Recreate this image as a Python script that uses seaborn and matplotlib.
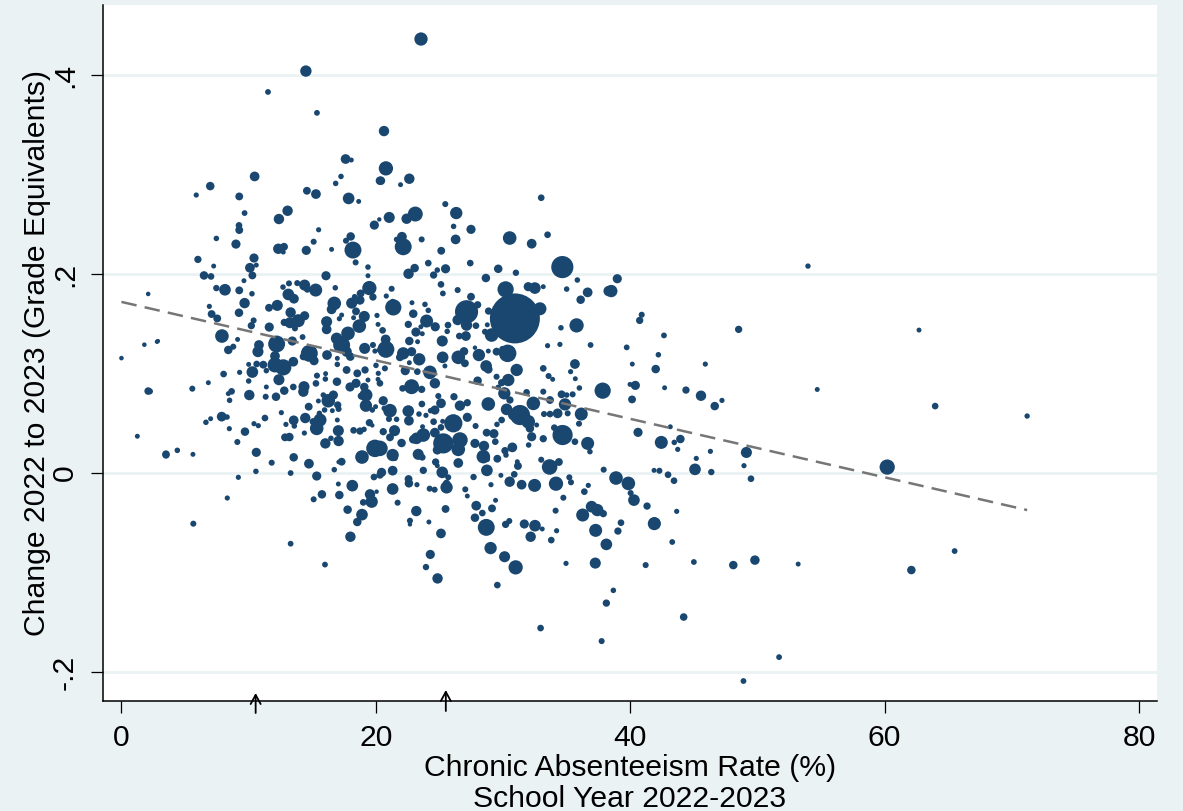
import matplotlib
matplotlib.use("Agg")
import matplotlib.pyplot as plt
import numpy as np
import pandas as pd
import seaborn as sns

chronic = [
17.62,18.07,10.47,6.98,5.88,17.26,16.84,20.32,14.58,15.29,9.26,17.86,18.65,9.68,13.06,12.38,19.88,20.27,9.24,9.26,
15.50,7.46,18.02,17.65,15.11,9.0,12.33,12.78,12.72,14.53,16.52,18.2,18.41,6.01,10.42,10.6,7.25,10.1,19.38,6.49,
7.04,10.29,16.08,19.38,9.63,7.46,8.14,9.26,10.26,12.70,13.17,13.82,14.4,14.61,15.27,16.81,19.49,18.8,19.77,13.12,
13.56,9.68,6.91,11.60,12.25,16.73,16.52,18.1,18.75,18.33,9.24,7.09,7.53,13.3,14.4,13.9,13.25,12.8,17.31,17.13,
18.44,19.09,20.09,10.39,10.21,11.62,16.13,16.13,18.7,20.17,18.25,13.64,7.9,9.13,14.24,16.92,17.81,
23.55,14.5,11.52,15.37,20.64,
20.79,20.4,22.63,21.94,33.0,25.46,26.32,21.05,22.42,23.1,26.11,27.48,22.05,21.63,22.15,23.6,26.27,30.52,32.25,33.5,
25.14,34.66,24.12,27.42,23.05,22.57,24.83,25.48,24.54,29.62,31.01,28.65,35.84,25.12,21.24,26.43,25.27,20.82,30.2,31.98,
32.5,33.16,35,36.65,36.1,38.3,27.48,21.37,21.32,22.84,23.86,24.12,22.94,27.13,28.0,28.86,26.43,27.87,27.13,32.9,
30.93,28.76,34.55,35.78,22.55,23.99,24.67,25.67,25.61,23.54,23.65,23.15,20.53,20.77,26.56,27.08,28.58,29.1,
2.87,5.57,6.83,2.24,8.03,9.29,8.4,8.79,10.81,10.73,12.2,13.43,10,10.63,11.15,10.29,11.39,12.07,12.07,12.72,
13.51,10,12.38,11.39,8.66,8.4,8.5,10.05,11.34,12.15,12.8,13.51,14.35,14.3,14.77,14.3,15.14,16.16,17.31,17.7,
17.99,19.12,19.77,19.93,20.27,16.97,16.97,17.7,15.37,16.05,16.03,15.29,16.94,18.54,19.15,20.01,20.19,19.38,20.17,18.44,
17.97,19.09,20.32,19.22,18.86,19.22,19.72,19.98,20.4,16.66,15.87,16.26,15.48,17,17.07,14.72,15.97,16.58,12.57,11.28,
7.88,8.3,7.01,6.64,8.48,10.42,10.76,9.71,13.54,13.59,12.93,14.45,15.08,15.61,15.56,15.35,16.97,17.05,14.38,12.86,
13.2,9.11,18.25,18.75,19.07,19.49,19.72,17.07,16.47,16.03,10.6,3.5,4.39,5.62,13.54,11.81,14.74,17.31,17.07,18.91,
19.93,16.73,10.57,13.3,9.19,15.35,19.85,20.32,17.05,18.15,15.76,17.13,15.11,8.32,19.54,19.67,19.01,20.06,17.78,18.91,
18.54,5.65,
20.79,22.63,23.28,25.22,22.15,22.81,23.41,21.89,22.63,25.25,20.71,22.31,23.26,25.43,26.48,26.93,27,28.1,27.79,28.84,
28.67,28.84,29.49,30.36,29.94,33.5,34.47,36.88,35.65,35.31,31.07,33.16,33.58,33.9,35.68,29.49,30.41,29.89,28,24.25,
24.64,22.81,22.1,23.6,20.32,29.62,30.1,31.85,33.16,36,37.83,34.6,35.47,35,24.91,26.14,20.58,25.12,23.62,27.19,
26.61,28.84,30.54,34.87,33.69,32.38,21.11,22.55,20.66,24.64,23.39,23.94,24.3,21.63,22.6,21.03,24.54,25.25,26.09,27.19,
30.28,31.33,31.98,32.11,32.25,30.8,32.64,33.22,33.69,34.29,35.08,36.15,35.97,27.84,29.52,29.89,28.71,29.28,29.39,33.16,
34.03,34.68,35.65,36.65,36.83,32.01,20.58,21.47,21.11,22.02,23.2,23.73,22.94,23.67,24.64,25.12,25.3,24.83,26.61,26.48,
27.79,28.5,30.73,30.15,30.23,20.32,21.32,21.5,23.33,23.65,28.45,28.76,29.55,24.7,24.83,26.48,31.12,31.17,33,33.66,
34.39,37.91,21.32,20.45,23.73,25.22,25.69,28.73,30.88,29.83,27.68,22.57,22.6,23.23,21.32,24.23,24.62,25.56,25.56,27.03,
27.19,29.05,30.52,31.46,32.48,34.16,35.21,35.34,36.7,36.39,34.74,21.71,23.18,25.48,27.89,28.37,29.13,29.41,27.79,28.68,
34.13,36.26,36.96,37.41,37.88,22.68,22.68,24.17,30.49,30.2,31.67,32.51,37.28,33.08,
25.12,24.28,23.94,24.85,29.02,30.12,30.99,29.55,32.17,34.21,33.79,39.03,39.27,38.12,34.95,37.25,41.21,38.67,38.12,32.95,
37.75,41.9,
38.98,38.51,40.9,40.74,42.65,48.52,39.72,42.21,40.16,45.9,42,39.98,40.4,42.7,40.14,44.38,45.56,46.64,47.21,43.15,
40.61,42.44,43.46,43.94,43.73,46.3,49.13,48.94,45.19,45.09,46.37,49.49,41.87,42.29,42.97,43.44,38.88,39.85,40.03,40.29,
41.32,43.65,41.89,
53.97,62.7,71.2,63.97,54.7,60.2,65.5,62.1,53.2,49.8,48.1,51.7,48.9,44.2,45,43.3,
0,2.1,1.8,2.8,2.1,1.25,3.5,4.4,18,16,13.3,
]
change = [
.3156,.3146,.2981,.2884,.2794,.2981,.2911,.2938,.2837,.2804,.2780,.2760,.2730,.2613,.2636,.2553,.2492,.2549,.2489,.2442,
.2445,.2358,.2378,.2335,.2325,.2301,.2254,.2274,.2221,.2238,.2248,.2241,.2117,.2147,.2161,.2090,.2080,.2063,.2070,.1986,
.1976,.1986,.1983,.1983,.1933,.1859,.1842,.1836,.1802,.1869,.1906,.1909,.1889,.1846,.1839,.1862,.1859,.1805,.1769,.1795,
.1752,.1708,.1675,.1661,.1685,.1705,.1645,.1708,.1738,.1772,.1611,.1598,.1554,.1614,.1581,.1531,.1511,.1514,.1588,.1551,
.1625,.1574,.1584,.1534,.1481,.1467,.1521,.1444,.1477,.1494,.1561,.1454,.1377,.1343,.1367,.1353,.1404,
.4362,.404,.383,.362,.3437,
.3062,.2938,.2958,.2898,.2767,.2703,.2613,.2569,.2556,.2603,.2479,.2449,.2375,.2348,.2274,.2348,.2348,.2362,.2305,.2395,
.2234,.2070,.2110,.2110,.2060,.2003,.2040,.2053,.1990,.2053,.2013,.1960,.1940,.1896,.1852,.1839,.1805,.1779,.1846,.1873,
.1859,.1873,.1849,.1816,.1742,.1829,.1772,.1665,.1722,.1712,.1695,.1635,.1601,.1621,.1691,.1628,.1538,.1481,.1487,.1651,
.1554,.1490,.1460,.1484,.1494,.1528,.1470,.1487,.1424,.1470,.1400,.1417,.1434,.1343,.1377,.1377,.1420,.1387,
.1327,.0848,.0908,.0821,.0995,.1012,.1237,.1270,.1287,.1220,.1297,.1327,.1092,.1096,.1089,.1015,.1029,.1176,.1086,.1062,
.1119,.0925,.0938,.0865,.0821,.0798,.0731,.0784,.0767,.0767,.0828,.0865,.0868,.0818,.1203,.1170,.1129,.1186,.1287,.1220,
.1170,.1253,.1287,.1226,.1236,.1092,.1153,.1036,.0979,.0999,.0945,.0901,.0918,.1002,.1036,.1082,.1002,.0935,.0942,.0902,
.0865,.0865,.0902,.0784,.0774,.0677,.0634,.0667,.0717,.0784,.0784,.0727,.0724,.0684,.0644,.0667,.0634,.0627,.0607,.0553,
.0567,.0563,.0546,.0510,.0446,.0496,.0476,.0416,.0530,.0473,.0489,.0553,.0516,.0533,.0600,.0449,.0533,.0426,.0402,.0359,
.0362,.0312,.0429,.0422,.0439,.0506,.0479,.0322,.0349,.0298,.0208,.0181,.0228,.0188,.0158,.0104,.0094,.0114,.0111,.0161,
.0248,.0034,.0017,.0000,-.0043,-.0030,-.0040,-.0020,-.0110,-.0127,-.0214,-.0221,-.0264,-.0251,-.0214,-.0288,-.0295,-.0187,-.0368,-.0418,
-.0492,-.0509,
.1243,.1327,.1320,.1327,.1203,.1220,.1143,.1163,.1109,.1163,.1052,.1029,.1019,.1076,.1163,.1223,.1103,.1186,.1260,.1226,
.1076,.1042,.1220,.1203,.1247,.1280,.1293,.1287,.1096,.1019,.1036,.1052,.0975,.0942,.0948,.0968,.0935,.0908,.0928,.1012,
.0902,.0868,.0851,.0841,.0902,.0861,.0801,.0811,.0818,.0855,.0828,.0791,.0791,.0784,.0774,.0767,.0727,.0701,.0694,.0707,
.0677,.0694,.0734,.0690,.0734,.0700,.0627,.0623,.0650,.0633,.0593,.0580,.0627,.0540,.0526,.0543,.0516,.0520,.0500,.0560,
.0640,.0583,.0516,.0449,.0365,.0583,.0483,.0593,.0593,.0600,.0600,.0593,.0496,.0473,.0489,.0533,.0406,.0396,.0315,.0345,
.0456,.0382,.0315,.0298,.0215,.0282,.0416,.0426,.0359,.0302,.0349,.0382,.0339,.0466,.0406,.0459,.0298,.0232,.0332,.0238,
.0298,.0272,.0258,.0225,.0181,.0248,.0181,.0148,.0188,.0158,.0165,.0138,.0144,.0111,.0074,.0101,.0114,.0071,.0134,.0061,
.0111,.0034,.0024,.0007,.0027,.0007,-.0043,.0027,-.0013,-.0023,-.0040,-.0060,-.0103,-.0117,-.0160,-.0157,-.0167,-.0144,-.0103,-.0164,
-.0231,-.0117,-.0087,-.0117,-.0124,-.0107,-.0043,-.0093,-.0124,-.0187,-.0248,-.0298,-.0382,-.0361,-.0328,-.0402,-.0355,-.0274,-.0449,-.0546,
-.0378,-.0422,-.0338,-.0372,-.0408,-.0479,-.0516,-.0492,-.0482,-.0516,-.0512,-.0529,-.0576,-.0562,
-.0607,-.0818,-.0945,-.1059,-.0754,-.0841,-.0948,-.1126,-.0640,-.0580,-.0674,-.0583,-.0499,-.0717,-.0908,-.0905,-.0925,-.1179,-.1307,-.1558,
-.1689,-.0506,
.1953,.1829,.1591,.1534,.1383,.1444,.1263,.1189,.1095,.1095,.1045,.0891,.0881,.0857,.0740,.0834,.0777,.0673,.0730,.0465,
.0409,.0308,.0308,.0342,.0238,.0218,.0207,.0074,.0147,.0037,.0010,-.0057,.0027,.0023,-.0017,-.0077,-.0050,-.0104,-.0201,-.0272,
-.0332,-.0385,-.0509,
.208,.1437,.0573,.0673,.084,.006,-.0784,-.0975,-.0915,-.0875,-.0925,-.185,-.209,-.1447,-.0894,-.0693,
.1155,.18,.129,.132,.0824,.037,.019,.023,-.064,-.092,-.071,
]
enrollment = [
9.3,4,9.3,8,4.3,4.7,4.7,8,7.3,9.3,7.3,11.3,4,5,10,10,8.7,3.3,6,7.3,
4.3,4.7,8,5.3,5.3,8.7,10,7.3,4,8.7,4,16.7,5.3,6.7,8.7,4,4,9.3,4.7,8,
6,7.3,8.7,4,4,5.7,11.3,7.3,4.7,4.7,5.3,5.3,10.7,6,12.7,4.7,14,7.3,6.7,11.3,
9.3,10,4.3,7.3,10.7,13.3,9.3,10.7,8.7,4.7,8,7.3,7.3,10,8.7,12.7,10.7,6.7,4,4.3,
7.3,10.7,4.3,5.3,6.7,8.7,10.7,9.3,13.3,4,4,5.3,13.3,4,5,11.3,13.3,
13,11,5,5,10,
14,8,10,4,6,5.3,12,10.7,10,14.7,4.7,8.7,9.3,4.7,16.7,5.3,9.3,13.3,9.3,6,
7.3,22,6,6,8,10,4.7,8.7,6.7,8,5.7,8,4.7,6,5.3,5.3,5,4.3,16,8.7,
11.3,4,4.7,9.3,8,10,7.3,16,5,4,4.7,4.7,8,23,6.7,6.7,10,6,11,12.7,
50,4,4.7,14,6.7,12.7,8.7,6,4.7,4,4,8.7,6,9.3,6,9.3,5.3,13.3,
3,5.3,4,5.3,6,4.3,8,5.3,9.3,10.7,16.7,8.7,4,6,7.3,11.3,4.7,9.3,14.7,16,
9.3,4.7,10.7,4,6,4,4.7,10,5.3,8,8,6,10.7,10,16.7,6.7,8.7,9.3,16.7,10,
8,10.7,5.3,4.3,4,4.7,4,7.3,5.3,4,4.7,6,8,7.3,6.7,4.7,4.3,4,4,8.7,
8.7,8,4,12.7,6.7,12,4.7,4,3.3,8.7,4.7,13.3,4,6.7,5.3,7.3,4.7,4,4.3,6,
9.3,4.7,4,4.7,4.3,4.3,4.3,8,9.3,4.7,4.3,10,6.7,12.7,4.7,13.3,4,10.7,4.3,7.3,
8,5.3,6,6.7,4.7,6.7,3.3,10,4.7,10,8.7,6.7,4.7,4,8,5.3,9.3,7.3,3.3,13.3,
17.3,4.7,4.7,5,4.3,8.7,6,6.7,4,11.3,8,8,5.3,4.3,10,12,6,3.3,8,11.3,
8,5.3,
16.7,8,4,10.7,12,8.7,12,7.3,4,11.3,5.3,8.7,6,4,13.3,8,7.3,12,3.3,4,
11.3,8,7.3,17.3,5.3,4.3,4.3,5,9.3,4.3,12,6,5.3,4,4,5.3,12,6.7,8,13.3,
10,14.7,6,6.7,6,4.7,12,6,5.3,4.7,16,7.3,5.3,4.7,5.3,6.7,8.7,9.3,6,6.7,
10,13.3,6.7,12,7.3,13.3,13.3,11.3,4.7,8.7,4.7,4.3,4.7,4.7,9.3,5.3,6,4,18,8.7,
11.3,20,13.3,8,8.7,10,4,5.3,6,9.3,5.3,12.7,5.3,5.3,4.7,6,7.3,8.7,6,6.7,
6,20,6,12.7,4.7,4.7,6.7,10.7,7.3,8,11.3,13.3,8,4,9.3,6,20,8.7,15.3,13.3,
8.7,10,9.3,6.7,4.7,15.3,12,4.7,10.7,6,13.3,4.7,7.3,6.7,4,9.3,4,7.3,5.3,15.3,
7.3,5.3,9.3,8.7,6.7,11.3,5.3,11.3,6,4,5.7,7.3,8,4.3,11.3,5.3,5.3,12,6.7,5.3,
4,4.3,10,9.3,12.7,14,5.3,5.3,4.3,6,5.3,5.3,10,7.3,9.3,6,7.3,4,8,16.7,
5.3,12.7,11.3,12,6.7,5.3,3.3,4,5.3,6.7,8.7,11.3,12.7,4,
9.3,8.7,5.7,10,12,10.7,14,6,10,4.3,6,6.7,6,11.3,4.3,10.7,5.3,4.7,6.7,6,
5.3,12,
8.7,12,5.3,6.7,5,6.7,5,4.7,4,4.3,8,4,8.7,4,7.3,6.7,10,8,4.3,4,
8.7,12.7,4.7,8,4.3,4.3,10.7,4.3,4.3,11.3,5.7,6,4,5.3,6,6,13.3,13.3,5.3,11.3,
6.7,4.3,12.7,
4.5,4,4.5,6,4,15,5,8,4,9,8,5,5,7,5,5,
3.5,3.5,3.5,3.5,7,4,7,3.5,10,5,5,
]
fit_x = [0, 71.2]
fit_y = [0.172, -0.0372]
marker_x = [10.55, 25.5]
arrow_tip = [0.0115, 0.0158]
arrow_tail = [-0.0172, -0.0144]
x_ticks = [0, 20, 40, 60, 80]
y_ticks = [-0.2, 0, 0.2, 0.4]
y_labels = ["-.2", "0", ".2", ".4"]

BG = "#eaf2f3"
NAVY = "#1a476f"

sns.set_theme(style="white")
plt.rcParams["font.family"] = ["Liberation Sans", "DejaVu Sans"]

W, H = 1183, 811
fig = plt.figure(figsize=(W / 100, H / 100), dpi=100, facecolor=BG)
ax = fig.add_axes([102.5 / W, 1 - 701 / H, (1157 - 102.5) / W, (701 - 5) / H], facecolor="white")

df = pd.DataFrame({"chronic": chronic, "change": change, "enrollment": np.array(enrollment) ** 2})
k = 0.72 ** 2
lo, hi = df["enrollment"].min(), df["enrollment"].max()
sns.scatterplot(data=df, x="chronic", y="change", size="enrollment",
                sizes=((np.sqrt(lo) + 1.2) ** 2 * k, hi * k),
                size_norm=(lo, hi), color=NAVY, linewidth=0, legend=False, ax=ax, zorder=3, clip_on=True)
sns.lineplot(x=fit_x, y=fit_y, ax=ax, color="#767676", linewidth=1.8, zorder=4,
             dashes=(6.2, 3.3), errorbar=None)

ax.set_xlim(-1.49, 81.41)
ax.set_ylim(-0.2291, 0.4704)
ax.set_xticks(x_ticks)
ax.set_yticks(y_ticks)
ax.set_yticklabels(y_labels, rotation=90, va="center")
ax.grid(axis="y", color=BG, linewidth=2.0, zorder=0)
ax.set_axisbelow(True)
for side in ("top", "right"):
    ax.spines[side].set_visible(False)
for side in ("left", "bottom"):
    ax.spines[side].set_color("black")
    ax.spines[side].set_linewidth(1.1)
ax.tick_params(axis="both", which="major", length=8.5, width=0.9, color="black",
               labelsize=21.7, labelcolor="black", left=True, bottom=True)
ax.tick_params(axis="x", pad=8)
ax.tick_params(axis="y", pad=8.6)

ax.set_ylabel("Change 2022 to 2023 (Grade Equivalents)", fontsize=21.7, color="black", labelpad=-0.5)
ax.set_xlabel("Chronic Absenteeism Rate (%)\nSchool Year 2022-2023", fontsize=21.7, color="black",
              labelpad=1.8, linespacing=1.1)

trans = ax.get_xaxis_transform()
for mx, tip, tail in zip(marker_x, arrow_tip, arrow_tail):
    ax.annotate("", xy=(mx, tip), xytext=(mx, tail), xycoords=trans, textcoords=trans,
                annotation_clip=False, zorder=6,
                arrowprops=dict(arrowstyle="->,head_length=0.55,head_width=0.3", color="black",
                                lw=1.3, shrinkA=0, shrinkB=0))

fig.savefig("out.png", dpi=100, facecolor=BG)
